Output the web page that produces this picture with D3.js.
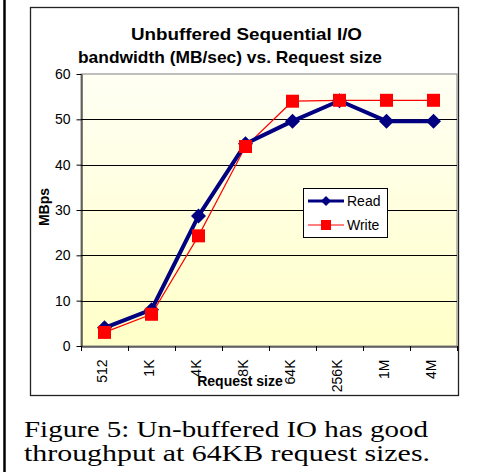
<!DOCTYPE html>
<html><head><meta charset="utf-8">
<script src="https://cdn.jsdelivr.net/npm/d3@7"></script>
<style>body{margin:0;background:#fff}svg{display:block}</style>
</head><body>
<script>
const categories = ["512","1K","4K","8K","64K","256K","1M","4M"];
const readValues = [4, 8, 28.7, 44.6, 49.6, 54.1, 49.6, 49.6];
const writeValues = [3, 7, 24.3, 44, 54, 54.2, 54.2, 54.2];
const yTicks = [0,10,20,30,40,50,60];
const titleLines = ["Unbuffered Sequential I/O","bandwidth (MB/sec) vs. Request size"];
const captionLines = ["Figure 5: Un-buffered IO has good","throughput at 64KB request sizes."];

const W=483,H=472;
const svg=d3.select("body").append("svg").attr("width",W).attr("height",H);
const defs=svg.append("defs");
const g=defs.append("linearGradient").attr("id","bg").attr("x1",0).attr("y1",0).attr("x2",0).attr("y2",1);
g.append("stop").attr("offset","0%").attr("stop-color","#FFFFF4");
g.append("stop").attr("offset","100%").attr("stop-color","#FFFFC8");

// page left rule
svg.append("line").attr("x1",4.5).attr("x2",4.5).attr("y1",0).attr("y2",H).attr("stroke","#000").attr("stroke-width",2.5);
// chart frame
svg.append("rect").attr("x",30.5).attr("y",7.5).attr("width",428).attr("height",388).attr("fill","#fff").attr("stroke","#222").attr("stroke-width",1.3);

const L=81,R=457,T=74,B=346;
const x=d3.scaleBand().domain(categories).range([L,R]);
const y=d3.scaleLinear().domain([0,60]).range([B,T]);

svg.append("rect").attr("x",L).attr("y",T).attr("width",R-L).attr("height",B-T).attr("fill","url(#bg)").attr("stroke","#808080").attr("stroke-width",1);

// gridlines
svg.append("g").selectAll("line").data(yTicks.filter(d=>d>0&&d<60)).join("line")
 .attr("x1",L).attr("x2",R).attr("y1",d=>Math.round(y(d))+0.5).attr("y2",d=>Math.round(y(d))+0.5)
 .attr("stroke","#000").attr("stroke-width",1);

const font="Arial, Liberation Sans, sans-serif";
// y axis
const ya=svg.append("g").attr("transform",`translate(${L+0.5},0)`)
 .call(d3.axisLeft(y).tickValues(yTicks).tickSize(5).tickPadding(6).tickSizeOuter(0));
ya.select(".domain").attr("stroke","#000");
ya.selectAll("line").attr("stroke","#000");
ya.selectAll("text").attr("font-family",font).attr("font-size",14).attr("fill","#000");

// x axis
const xa=svg.append("g").attr("transform",`translate(0,${B+0.5})`)
 .call(d3.axisBottom(x).tickSize(0).tickSizeOuter(0));
xa.select(".domain").attr("stroke","#000");
xa.selectAll(".tick text").attr("font-family",font).attr("font-size",14).attr("fill","#000")
 .attr("transform","rotate(-90)").attr("text-anchor","end").attr("x",-13).attr("y",-2).attr("dy","0.35em");
// boundary ticks
svg.append("g").selectAll("line").data(categories.concat(["_end"])).join("line")
 .attr("x1",(d,i)=>Math.round(L+i*x.step())+0.5).attr("x2",(d,i)=>Math.round(L+i*x.step())+0.5)
 .attr("y1",B).attr("y2",B+5).attr("stroke","#000");

// title
svg.append("text").attr("x",131).attr("y",40).attr("font-family",font).attr("font-weight","bold").attr("font-size",17)
 .attr("textLength",231).attr("lengthAdjust","spacingAndGlyphs").text(titleLines[0]);
svg.append("text").attr("x",78).attr("y",63).attr("font-family",font).attr("font-weight","bold").attr("font-size",17)
 .attr("textLength",304).attr("lengthAdjust","spacingAndGlyphs").text(titleLines[1]);
// axis titles
svg.append("text").attr("transform","translate(49,207) rotate(-90)").attr("text-anchor","middle").attr("font-family",font).attr("font-weight","bold").attr("font-size",14).text("MBps");
svg.append("text").attr("x",240).attr("y",386).attr("text-anchor","middle").attr("font-family",font).attr("font-weight","bold").attr("font-size",14).text("Request size");

const cx=d=>x(d)+x.bandwidth()/2;
const line=d3.line().x((d,i)=>cx(categories[i])).y(d=>y(d));

// write series
svg.append("path").datum(writeValues).attr("d",line).attr("fill","none").attr("stroke","#FF0000").attr("stroke-width",1.2);
// read series
svg.append("path").datum(readValues).attr("d",line).attr("fill","none").attr("stroke","#000080").attr("stroke-width",4).attr("stroke-linejoin","round");
const diamond=s=>`M0,${-s}L${s},0L0,${s}L${-s},0Z`;
svg.append("g").selectAll("path").data(readValues).join("path")
 .attr("transform",(d,i)=>`translate(${cx(categories[i])},${y(d)})`).attr("d",diamond(7.5)).attr("fill","#000080");
svg.append("g").selectAll("rect").data(writeValues).join("rect")
 .attr("x",(d,i)=>cx(categories[i])-6.5).attr("y",d=>y(d)-6.5).attr("width",13).attr("height",13).attr("fill","#FF0000");

// legend
const lg=svg.append("g");
lg.append("rect").attr("x",303.5).attr("y",188.5).attr("width",84).attr("height",49).attr("fill","#fff").attr("stroke","#000");
lg.append("line").attr("x1",308).attr("x2",344).attr("y1",201).attr("y2",201).attr("stroke","#000080").attr("stroke-width",3);
lg.append("path").attr("transform","translate(326,201)").attr("d",diamond(5)).attr("fill","#000080");
lg.append("text").attr("x",347).attr("y",206).attr("font-family",font).attr("font-size",14).text("Read");
lg.append("line").attr("x1",308).attr("x2",344).attr("y1",225).attr("y2",225).attr("stroke","#FF0000").attr("stroke-width",1);
lg.append("rect").attr("x",321).attr("y",220).attr("width",10).attr("height",10).attr("fill","#FF0000");
lg.append("text").attr("x",347).attr("y",230).attr("font-family",font).attr("font-size",14).text("Write");

// caption
const serif="'Liberation Serif','Times New Roman',serif";
svg.append("text").attr("x",24).attr("y",437).attr("font-family",serif).attr("font-size",23)
 .attr("textLength",404).attr("lengthAdjust","spacingAndGlyphs").text(captionLines[0]);
svg.append("text").attr("x",24).attr("y",461).attr("font-family",serif).attr("font-size",23)
 .attr("textLength",406).attr("lengthAdjust","spacingAndGlyphs").text(captionLines[1]);
</script>
</body></html>
